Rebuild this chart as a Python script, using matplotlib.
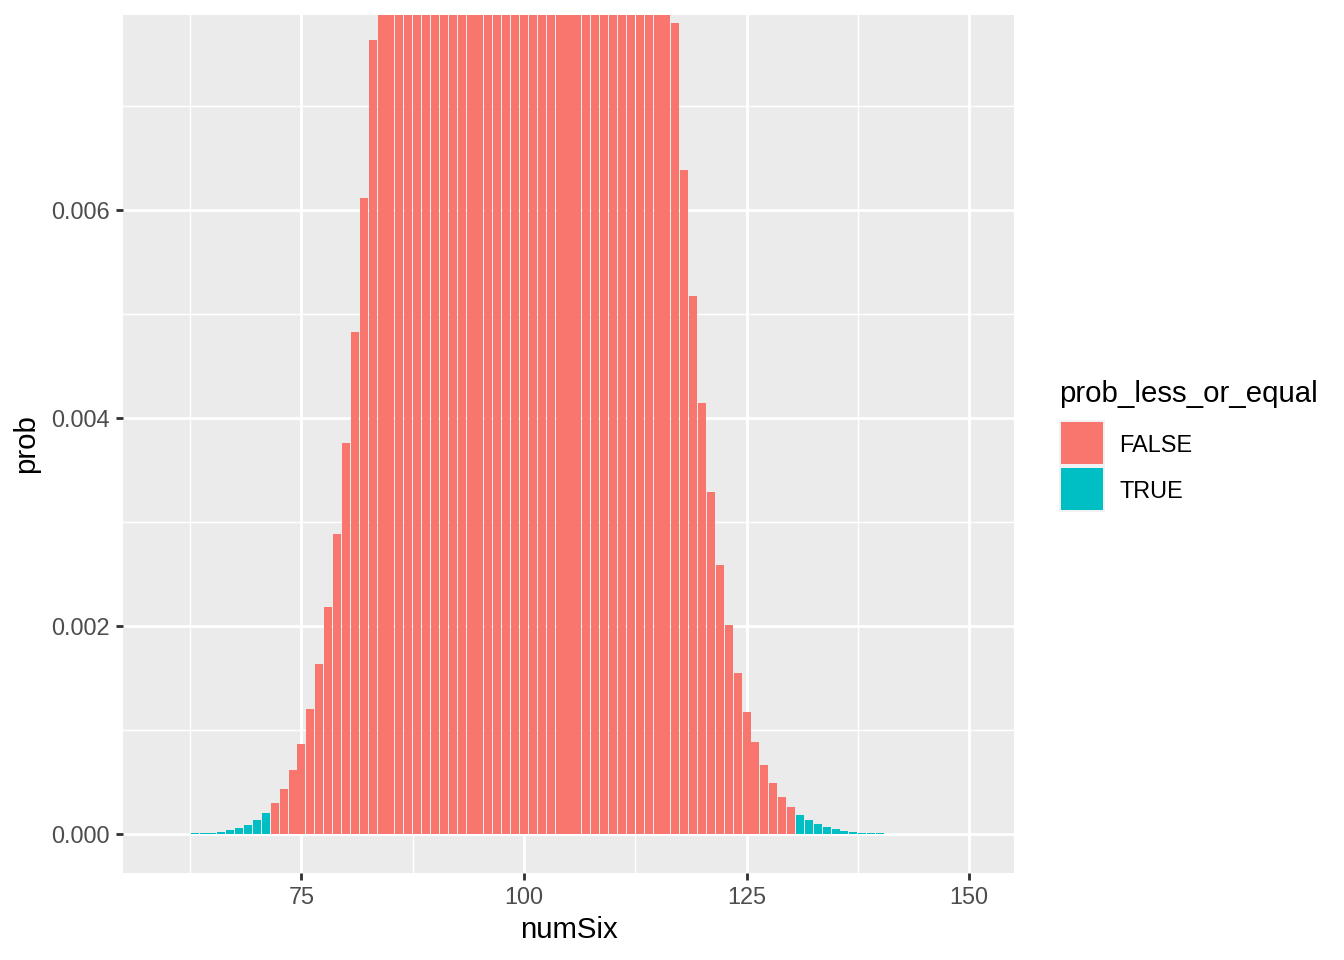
import matplotlib
matplotlib.use("Agg")
import matplotlib.pyplot as plt
from matplotlib.patches import Rectangle

plt.rcParams['font.family'] = ['Liberation Sans', 'DejaVu Sans']

numSix = list(range(60, 151))
prob = [
    0.0000010, 0.0000018, 0.0000031, 0.0000052, 0.0000087, 0.0000144, 0.0000234,
    0.0000373, 0.0000584, 0.0000901, 0.0001367, 0.0002041, 0.0002999, 0.0004339,
    0.0006180, 0.0008669, 0.0011977, 0.001630, 0.002186, 0.002889, 0.003762,
    0.004831, 0.006115, 0.007632, 0.009395, 0.011407, 0.013662, 0.016143,
    0.018821, 0.021655, 0.024591, 0.027563, 0.030499, 0.033319, 0.035942,
    0.038288, 0.040282, 0.041860, 0.042970, 0.043578, 0.043665, 0.043233,
    0.042300, 0.040904, 0.039095, 0.036935, 0.034496, 0.031852, 0.029080,
    0.026252, 0.023436, 0.020691, 0.018068, 0.015606, 0.013334, 0.011270,
    0.009424, 0.007797, 0.006383, 0.005171, 0.004145, 0.003289, 0.002583,
    0.002007, 0.001544, 0.001176, 0.000887, 0.000662, 0.000489, 0.000358,
    0.000260, 0.0001863, 0.0001324, 0.0000932, 0.0000649, 0.0000448, 0.0000307,
    0.0000208, 0.0000139, 0.0000093, 0.0000061, 0.0000040, 0.0000026, 0.0000016,
    0.0000010, 0.00000066, 0.00000041, 0.00000025, 0.00000016, 0.00000010,
    0.00000006,
]
observed = 71
obs_prob = prob[numSix.index(observed)]
prob_less_or_equal = [p <= obs_prob for p in prob]

legend_labels = ["FALSE", "TRUE"]
palette = {False: "#F8766D", True: "#00BFC4"}

x_ticks = [75, 100, 125, 150]
x_minor = [62.5, 87.5, 112.5, 137.5]
y_ticks = [0.0, 0.002, 0.004, 0.006]
y_tick_labels = ["0.000", "0.002", "0.004", "0.006"]
y_minor = [0.001, 0.003, 0.005, 0.007]

W, H = 1344, 960
fig = plt.figure(figsize=(7, 5), dpi=192)
ax = fig.add_axes([123 / W, 1 - 873 / H, (1014 - 123) / W, (873 - 15) / H])
ax.set_facecolor("#EBEBEB")
for s in ax.spines.values():
    s.set_visible(False)

ax.bar(numSix, prob, width=0.9, color=[palette[f] for f in prob_less_or_equal],
       linewidth=0, zorder=3)

ax.set_xlim(54.95, 155.05)
ax.set_ylim(-0.000375, 0.007875)
ax.set_xticks(x_ticks)
ax.set_xticks(x_minor, minor=True)
ax.set_yticks(y_ticks)
ax.set_yticklabels(y_tick_labels)
ax.set_yticks(y_minor, minor=True)
ax.grid(which="major", color="white", linewidth=1.07, zorder=1)
ax.grid(which="minor", color="white", linewidth=0.53, zorder=1)
ax.set_axisbelow(True)
ax.tick_params(which="major", length=2.75, width=1.07, color="#333333",
               labelsize=8.8, labelcolor="#4D4D4D", pad=2.2)
ax.tick_params(which="minor", length=0)

ax.set_xlabel("numSix", fontsize=11, color="black", labelpad=2.5)
ax.set_ylabel("prob", fontsize=11, color="black", labelpad=4)

# legend
def fx(px):
    return px / W

def fy(py):
    return 1 - py / H

fig.text(fx(1059), fy(394), "prob_less_or_equal", fontsize=11, ha="left", va="center")
key_top = 420
key_h = 46
for i, lab in enumerate(legend_labels):
    top = key_top + i * key_h
    fig.add_artist(Rectangle((fx(1059), fy(top + key_h)), 46 / W, key_h / H,
                             transform=fig.transFigure, facecolor="#F2F2F2",
                             edgecolor="none"))
    fig.add_artist(Rectangle((fx(1061), fy(top + key_h - 2)), 42 / W, (key_h - 4) / H,
                             transform=fig.transFigure,
                             facecolor=palette[lab == "TRUE"], edgecolor="none"))
    fig.text(fx(1119), fy(top + key_h / 2 + 2), lab, fontsize=8.8, ha="left", va="center")

fig.savefig("out.png", dpi=192)
